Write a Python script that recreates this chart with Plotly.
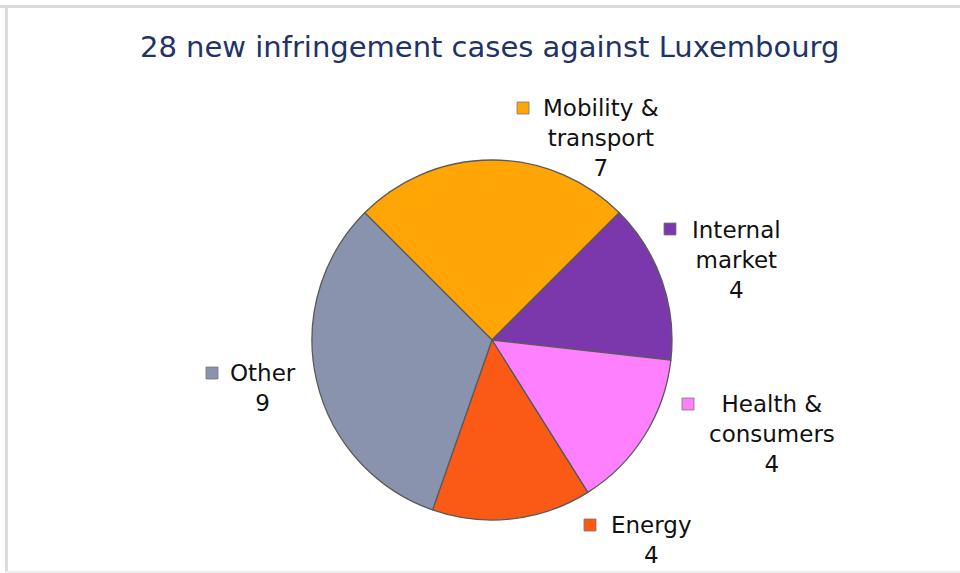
import plotly.graph_objects as go

W, H = 960, 573

categories = ["Mobility &<br>transport", "Internal<br>market", "Health &<br>consumers", "Energy", "Other"]
values = [7, 4, 4, 4, 9]
colors = ["#FFA505", "#7A38AC", "#FF80FF", "#FA5A16", "#8A93AD"]
title_text = "28 new infringement cases against Luxembourg"

# layout helpers (pixel -> paper)
def px(x):
    return x / W

def py(y):
    return 1 - y / H

cx, cy, r = 492, 340, 180

fig = go.Figure(go.Pie(
    labels=categories,
    values=values,
    sort=False,
    direction="clockwise",
    rotation=-45,
    marker=dict(colors=colors, line=dict(color="#5a5a5a", width=1.3)),
    textinfo="none",
    hoverinfo="label+value",
    showlegend=False,
    domain=dict(x=[px(cx - r), px(cx + r)], y=[py(cy + r), py(cy - r)]),
))

# label text blocks (centre x, first line centre y) and legend-key squares
label_pos = [(601, 108), (736, 230), (772, 404), (651, 525), (263, 373)]
key_pos = [(523, 108), (670, 229), (688, 404), (590, 525), (212, 373)]
line_h = 29.5
ann = []
shapes = []
for cat, val, col, (lx, ly), (kx, ky) in zip(categories, values, colors, label_pos, key_pos):
    nlines = cat.count("<br>") + 2
    mid = ly + (nlines - 1) * line_h / 2
    ann.append(dict(
        text=f"{cat}<br>{val}", x=px(lx), y=py(mid), xref="paper", yref="paper",
        showarrow=False, align="center", xanchor="center", yanchor="middle",
        font=dict(family="DejaVu Sans, Verdana, sans-serif", size=23, color="#111111"),
    ))
    s = 6
    shapes.append(dict(type="rect", xref="paper", yref="paper",
                       x0=px(kx - s), x1=px(kx + s), y0=py(ky + s), y1=py(ky - s),
                       fillcolor=col, line=dict(color="#777777", width=0.8)))

ann.append(dict(
    text=title_text, x=px(489), y=py(47), xref="paper", yref="paper",
    showarrow=False, xanchor="center", yanchor="middle",
    font=dict(family="DejaVu Sans, Verdana, sans-serif", size=29, color="#1F3366"),
))

# frame borders
shapes += [
    dict(type="rect", xref="paper", yref="paper", x0=0, x1=1, y0=py(8), y1=py(5),
         fillcolor="#dcdcdc", line=dict(width=0), layer="below"),
    dict(type="rect", xref="paper", yref="paper", x0=px(5), x1=px(8), y0=0, y1=py(5),
         fillcolor="#dcdcdc", line=dict(width=0), layer="below"),
    dict(type="rect", xref="paper", yref="paper", x0=px(5), x1=1, y0=0, y1=py(571),
         fillcolor="#eeeeee", line=dict(width=0), layer="below"),
]

fig.update_layout(
    width=W, height=H,
    margin=dict(l=0, r=0, t=0, b=0),
    paper_bgcolor="white",
    plot_bgcolor="white",
    annotations=ann,
    shapes=shapes,
)

fig.write_html("out.html", config={"displayModeBar": False},
               post_script="document.body.style.margin='0px';")
